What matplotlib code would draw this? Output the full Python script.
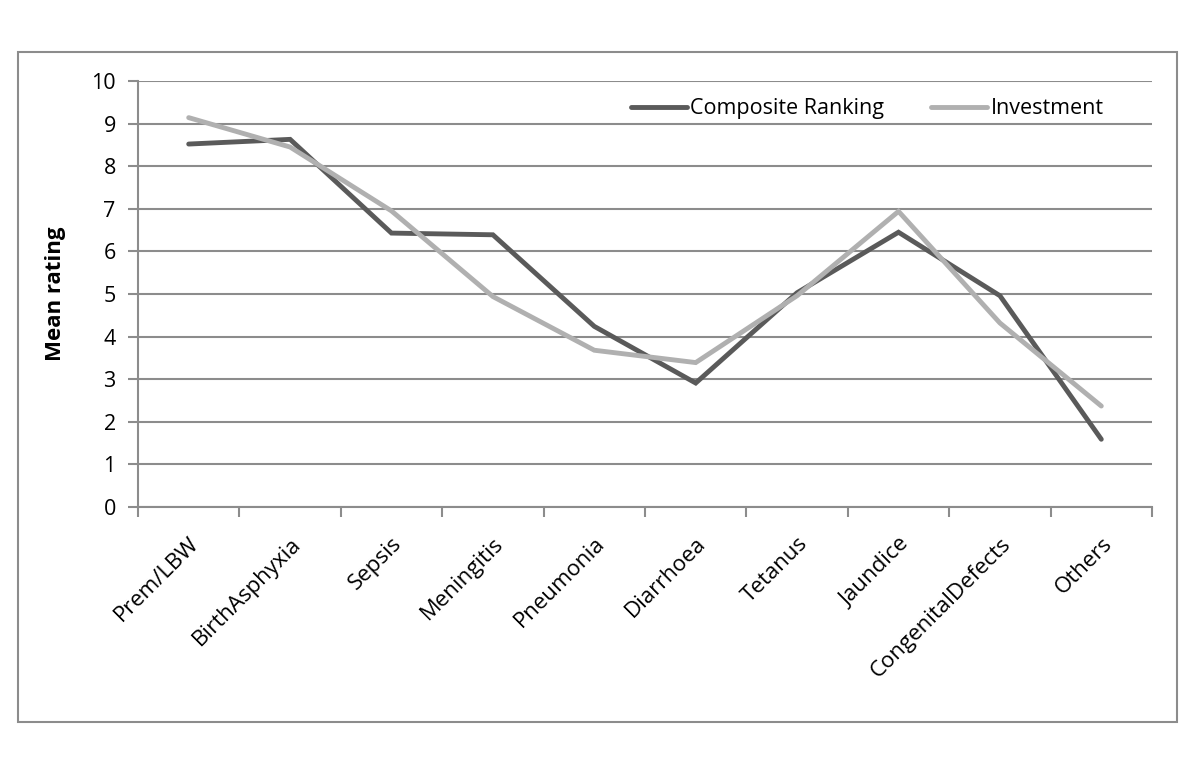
import matplotlib.pyplot as plt
from matplotlib.patches import Rectangle
import numpy as np

categories = ["Prem/LBW", "BirthAsphyxia", "Sepsis", "Meningitis", "Pneumonia",
              "Diarrhoea", "Tetanus", "Jaundice", "CongenitalDefects", "Others"]
composite = [8.52, 8.63, 6.43, 6.39, 4.24, 2.91, 5.03, 6.45, 4.96, 1.59]
investment = [9.14, 8.45, 6.95, 4.94, 3.68, 3.39, 4.96, 6.94, 4.32, 2.37]
yticks = list(range(0, 11))

plt.rcParams['font.family'] = ['Open Sans', 'DejaVu Sans']

fig = plt.figure(figsize=(12, 7.77), dpi=100)
ax = fig.add_axes([138 / 1200, 1 - 507 / 777, 1014 / 1200, 426 / 777])

# outer frame around the whole chart
fig.patches.append(Rectangle((18 / 1200, 1 - 722 / 777), 1159 / 1200, 670 / 777,
                             transform=fig.transFigure, fill=False,
                             edgecolor='#8c8c8c', linewidth=1.5))

x = np.arange(len(categories))
ax.plot(x, composite, color='#5a5a5a', linewidth=3.5, label='Composite Ranking',
        solid_capstyle='round', solid_joinstyle='miter')
ax.plot(x, investment, color='#b0b0b0', linewidth=3.5, label='Investment',
        solid_capstyle='round', solid_joinstyle='miter')

ax.set_xlim(-0.5, len(categories) - 0.5)
ax.set_ylim(0, 10)
ax.set_yticks(yticks)
ax.yaxis.grid(True, color='#8c8c8c', linewidth=1.5)
ax.set_axisbelow(True)

# category ticks sit between categories
ax.set_xticks(np.arange(len(categories) + 1) - 0.5)
ax.set_xticklabels([])
ax.set_xticks(x, minor=True)
ax.set_xticklabels(categories, minor=True, rotation=45, ha='right',
                   rotation_mode='anchor', fontsize=16)
ax.tick_params(axis='x', which='minor', length=0, pad=19)
ax.tick_params(axis='x', which='major', length=7, width=1.5, color='#8c8c8c')
ax.tick_params(axis='y', length=7, width=1.5, color='#8c8c8c', labelsize=15.5, pad=9)

for side in ['top', 'right']:
    ax.spines[side].set_visible(False)
for side in ['left', 'bottom']:
    ax.spines[side].set_color('#8c8c8c')
    ax.spines[side].set_linewidth(1.5)

ax.set_ylabel('Mean rating', fontsize=16, fontweight='bold')
ax.yaxis.set_label_coords(-0.071, 0.5)

ax.legend(loc='center', bbox_to_anchor=(0.719, 0.935), ncol=2, frameon=False,
          fontsize=15.5, handlelength=2.6, handletextpad=0.15, columnspacing=2.2)

fig.savefig('out.png', dpi=100)
